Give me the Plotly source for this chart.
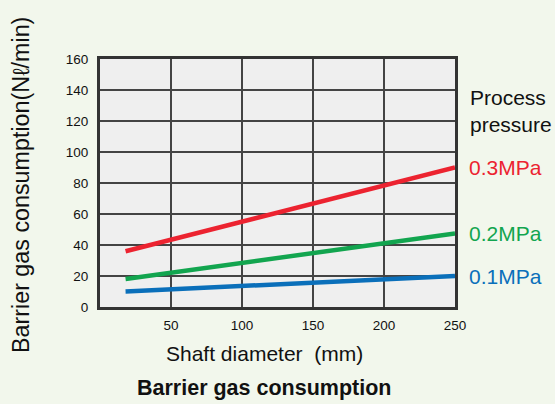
import plotly.graph_objects as go

shaft = [18, 250]
p03 = [36, 90]
p02 = [18, 47.5]
p01 = [10, 20]
series = [("0.3MPa", p03, "#ec2330"), ("0.2MPa", p02, "#12a54f"), ("0.1MPa", p01, "#0a6fba")]
xticks = [50, 100, 150, 200, 250]
yticks = [0, 20, 40, 60, 80, 100, 120, 140, 160]

FONT = "Liberation Sans, Arial, sans-serif"
fig = go.Figure()
for name, vals, col in series:
    fig.add_trace(go.Scatter(x=shaft, y=vals, mode="lines", name=name,
                             line=dict(color=col, width=4.5), showlegend=False))

fig.update_layout(
    width=555, height=404,
    margin=dict(l=100, r=100, t=59, b=97),
    paper_bgcolor="#f2f7ec", plot_bgcolor="#efefef",
    font=dict(family=FONT, color="#111", size=13),
)
fig.update_xaxes(range=[0, 250], tickvals=xticks, showgrid=True, gridcolor="#444", gridwidth=1.5,
                 showline=True, linecolor="#333", linewidth=3, mirror=True, ticks="", zeroline=False,
                 tickfont=dict(size=13.5, color="#111"), ticklabelstandoff=4)
fig.update_yaxes(range=[0, 160], tickvals=yticks, showgrid=True, gridcolor="#444", gridwidth=1.5,
                 showline=True, linecolor="#333", linewidth=3, mirror=True, ticks="", zeroline=False,
                 tickfont=dict(size=13.5, color="#111"), ticklabelstandoff=6)

ann = []
ann.append(dict(text="Barrier gas consumption(Nℓ/min)", textangle=-90, xref="paper", yref="paper",
                x=(21 - 100) / 355, y=(307 - 185) / 248, xanchor="center", yanchor="middle", showarrow=False,
                font=dict(size=23.3, family=FONT, color="#111")))
ann.append(dict(text="Shaft diameter  (mm)", xref="paper", yref="paper", x=(264 - 100) / 355,
                y=(307 - 353) / 248, xanchor="center", yanchor="middle", showarrow=False,
                font=dict(size=21, family=FONT, color="#111")))
ann.append(dict(text="<b>Barrier gas consumption</b>", xref="paper", yref="paper", x=(264 - 100) / 355,
                y=(307 - 388) / 248, xanchor="center", yanchor="middle", showarrow=False,
                font=dict(size=21.5, family=FONT, color="#111")))
ann.append(dict(text="Process<br>pressure", xref="paper", yref="paper", x=(468 - 100) / 355,
                y=(307 - 111) / 248, xanchor="left", yanchor="middle", align="left", showarrow=False,
                font=dict(size=21, family=FONT, color="#111")))
for name, vals, col in series:
    ann.append(dict(text=name, xref="paper", yref="y", x=(467 - 100) / 355, y=vals[-1],
                    xanchor="left", yanchor="middle", showarrow=False,
                    font=dict(size=21, family=FONT, color=col)))
fig.update_layout(annotations=ann)
fig.write_html("out.html", config={"displayModeBar": False},
               post_script="document.body.style.margin='0';document.body.style.overflow='hidden';")
